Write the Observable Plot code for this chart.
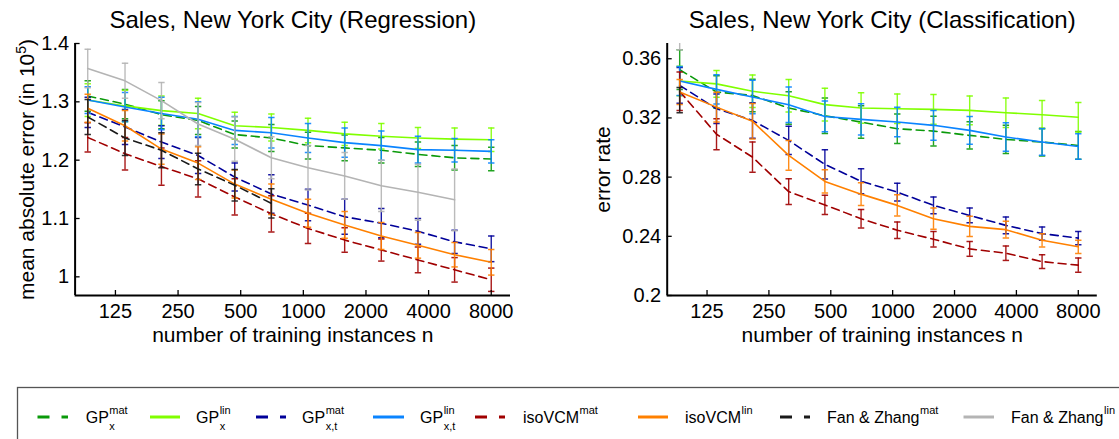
<!DOCTYPE html>
<html><head><meta charset="utf-8">
<script src="https://cdn.jsdelivr.net/npm/d3@7"></script>
<script src="https://cdn.jsdelivr.net/npm/@observablehq/plot@0.6"></script>
<style>
body{margin:0;background:#fff;}
#root{position:relative;width:1119px;height:439px;overflow:hidden;background:#fff;font-family:"Liberation Sans",Arial,Helvetica,sans-serif;}
.panel{position:absolute;top:0;}
</style></head><body><div id="root"></div>
<script>
// ---------- data ----------
const nTrain = [92, 139, 208, 312, 468, 702, 1053, 1580, 2370, 3555, 5333, 8000];
const xTickValues = [125, 250, 500, 1000, 2000, 4000, 8000];
const regTicks = [1, 1.1, 1.2, 1.3, 1.4];
const clsTicks = [0.2, 0.24, 0.28, 0.32, 0.36];

const seriesColors = ["#0a9a0a", "#80ff00", "#000099", "#0a84ff", "#a00000", "#ff8000", "#1a1a1a", "#b4b4b4"];
const seriesDashed = [true, false, true, false, true, false, true, false];
const legendBase = ["GP", "GP", "GP", "GP", "isoVCM", "isoVCM", "Fan & Zhang", "Fan & Zhang"];
const legendSup = ["mat", "lin", "mat", "lin", "mat", "lin", "mat", "lin"];
const legendSub = ["x", "x", "x,t", "x,t", "", "", "", ""];

// Regression (mean absolute error, in 1e5)
const regGPxMat      = [1.310, 1.296, 1.278, 1.268, 1.244, 1.238, 1.225, 1.221, 1.217, 1.210, 1.204, 1.202];
const regGPxMatErr   = [0.026, 0.025, 0.024, 0.024, 0.023, 0.023, 0.023, 0.022, 0.022, 0.021, 0.021, 0.020];
const regGPxLin      = [1.303, 1.293, 1.285, 1.280, 1.259, 1.256, 1.251, 1.245, 1.241, 1.238, 1.236, 1.235];
const regGPxLinErr   = [0.028, 0.027, 0.025, 0.026, 0.023, 0.023, 0.021, 0.020, 0.022, 0.018, 0.019, 0.020];
const regGPxtMat     = [1.282, 1.257, 1.231, 1.208, 1.171, 1.142, 1.123, 1.103, 1.092, 1.078, 1.060, 1.048];
const regGPxtMatErr  = [0.026, 0.030, 0.028, 0.031, 0.024, 0.033, 0.027, 0.030, 0.025, 0.022, 0.020, 0.022];
const regGPxtLin     = [1.303, 1.291, 1.280, 1.270, 1.251, 1.247, 1.238, 1.230, 1.225, 1.218, 1.217, 1.215];
const regGPxtLinErr  = [0.023, 0.025, 0.028, 0.030, 0.024, 0.026, 0.025, 0.025, 0.025, 0.023, 0.020, 0.020];
const regIsoMat      = [1.239, 1.211, 1.189, 1.168, 1.137, 1.108, 1.083, 1.063, 1.046, 1.029, 1.012, 0.995];
const regIsoMatErr   = [0.025, 0.028, 0.032, 0.031, 0.031, 0.031, 0.026, 0.021, 0.019, 0.022, 0.021, 0.020];
const regIsoLin      = [1.289, 1.259, 1.219, 1.195, 1.159, 1.133, 1.109, 1.089, 1.070, 1.054, 1.038, 1.025];
const regIsoLinErr   = [0.024, 0.026, 0.026, 0.028, 0.024, 0.026, 0.024, 0.023, 0.023, 0.022, 0.021, 0.022];
const regFanMat      = [1.274, 1.238, 1.217, 1.185, 1.157, 1.126];
const regFanMatErr   = [0.030, 0.030, 0.030, 0.027, 0.027, 0.025];
const regFanLin      = [1.357, 1.336, 1.302, 1.262, 1.236, 1.204, 1.187, 1.173, 1.156, 1.145, 1.132];
const regFanLinErr   = [0.033, 0.030, 0.031, 0.037, 0.038, 0.036, 0.038, 0.040, 0.044, 0.048, 0.053];

// Classification (error rate)
const clsGPxMat      = [0.3526, 0.3375, 0.3352, 0.3267, 0.3215, 0.3172, 0.3127, 0.3111, 0.3082, 0.3055, 0.3037, 0.3014];
const clsGPxMatErr   = [0.0134, 0.0110, 0.0110, 0.0110, 0.0120, 0.0110, 0.0100, 0.0100, 0.0092, 0.0096, 0.0094, 0.0094];
const clsGPxLin      = [0.3450, 0.3430, 0.3380, 0.3350, 0.3290, 0.3267, 0.3262, 0.3258, 0.3251, 0.3235, 0.3222, 0.3205];
const clsGPxLinErr   = [0.0100, 0.0090, 0.0110, 0.0110, 0.0110, 0.0103, 0.0100, 0.0100, 0.0097, 0.0100, 0.0096, 0.0100];
const clsGPxtMat     = [0.3420, 0.3262, 0.3183, 0.3048, 0.2886, 0.2772, 0.2699, 0.2609, 0.2541, 0.2474, 0.2418, 0.2388];
const clsGPxtMatErr  = [0.0120, 0.0100, 0.0120, 0.0095, 0.0099, 0.0085, 0.0060, 0.0056, 0.0050, 0.0056, 0.0045, 0.0045];
const clsGPxtLin     = [0.3450, 0.3393, 0.3341, 0.3289, 0.3210, 0.3190, 0.3172, 0.3150, 0.3116, 0.3071, 0.3037, 0.3007];
const clsGPxtLinErr  = [0.0098, 0.0099, 0.0113, 0.0120, 0.0104, 0.0106, 0.0100, 0.0100, 0.0094, 0.0097, 0.0090, 0.0086];
const clsIsoMat      = [0.3380, 0.3090, 0.2935, 0.2702, 0.2612, 0.2519, 0.2441, 0.2380, 0.2315, 0.2286, 0.2229, 0.2205];
const clsIsoMatErr   = [0.0130, 0.0105, 0.0102, 0.0087, 0.0065, 0.0062, 0.0056, 0.0053, 0.0050, 0.0049, 0.0047, 0.0048];
const clsIsoLin      = [0.3375, 0.3273, 0.3177, 0.2947, 0.2771, 0.2685, 0.2609, 0.2519, 0.2467, 0.2445, 0.2373, 0.2329];
const clsIsoLinErr   = [0.0085, 0.0100, 0.0120, 0.0100, 0.0079, 0.0077, 0.0072, 0.0072, 0.0068, 0.0056, 0.0045, 0.0045];
const clsFanMat      = [0.3320];
const clsFanMatErr   = [0.0085];
const clsFanLin      = [0.3830];
const clsFanLinErr   = [0.0170];

const regMeans = [regGPxMat, regGPxLin, regGPxtMat, regGPxtLin, regIsoMat, regIsoLin, regFanMat, regFanLin];
const regErrs  = [regGPxMatErr, regGPxLinErr, regGPxtMatErr, regGPxtLinErr, regIsoMatErr, regIsoLinErr, regFanMatErr, regFanLinErr];
const clsMeans = [clsGPxMat, clsGPxLin, clsGPxtMat, clsGPxtLin, clsIsoMat, clsIsoLin, clsFanMat, clsFanLin];
const clsErrs  = [clsGPxMatErr, clsGPxLinErr, clsGPxtMatErr, clsGPxtLinErr, clsIsoMatErr, clsIsoLinErr, clsFanMatErr, clsFanLinErr];

// ---------- drawing ----------
const FONT = '"Liberation Sans", Arial, Helvetica, sans-serif';
const root = document.getElementById("root");
const xDomain = [80, 9900];
const capSymbol = {draw(ctx, size) { const r = Math.sqrt(size / Math.PI); ctx.moveTo(-r, 0); ctx.lineTo(r, 0); }};

function panel({title, ylabel, sup, yDomain, yTicks, means, errs, width, height, marginLeft, marginRight, marginTop, marginBottom, ylabelDx}) {
  const W = width - marginLeft - marginRight;
  const H = height - marginTop - marginBottom;
  const marks = [];
  means.forEach((arr, s) => {
    const rows = arr.map((m, i) => ({n: nTrain[i], m, lo: m - errs[s][i], hi: m + errs[s][i]}));
    const c = seriesColors[s];
    marks.push(Plot.ruleX(rows, {x: "n", y1: "lo", y2: "hi", stroke: c, strokeWidth: 1.4, strokeOpacity: 0.9, clip: true}));
    marks.push(Plot.dot(rows, {x: "n", y: "lo", symbol: capSymbol, r: 3.2, stroke: c, fill: "none", strokeWidth: 1.5, strokeOpacity: 0.9, clip: true}));
    marks.push(Plot.dot(rows, {x: "n", y: "hi", symbol: capSymbol, r: 3.2, stroke: c, fill: "none", strokeWidth: 1.5, strokeOpacity: 0.9, clip: true}));
    marks.push(Plot.line(rows, {x: "n", y: "m", stroke: c, strokeWidth: 1.6, strokeDasharray: seriesDashed[s] ? "8,5" : null, clip: true}));
  });
  const fmt = d => String(+d.toFixed(2));
  marks.push(
    Plot.tickX(xTickValues, {x: d => d, insetTop: H - 5, stroke: "black", strokeWidth: 1.3}),
    Plot.tickY(yTicks, {y: d => d, insetRight: W - 5, stroke: "black", strokeWidth: 1.3}),
    Plot.ruleX([xDomain[0]], {stroke: "black", strokeWidth: 2}),
    Plot.ruleY([yDomain[0]], {stroke: "black", strokeWidth: 2}),
    Plot.text(xTickValues, {x: d => d, text: d => String(d), frameAnchor: "bottom", dy: 16, fontSize: 20, lineAnchor: "middle"}),
    Plot.axisY({ticks: yTicks, tickSize: 0, tickPadding: 6, tickFormat: fmt, label: null, fontSize: 20}),
    Plot.text([title], {text: d => d, frameAnchor: "top", dy: -23, fontSize: 24, lineAnchor: "middle"}),
    Plot.text(["number of training instances n"], {text: d => d, frameAnchor: "bottom", dy: 40, fontSize: 21, lineAnchor: "middle"}),
    Plot.text([ylabel], {text: d => d, frameAnchor: "left", dx: ylabelDx, rotate: -90, fontSize: 21, lineAnchor: "middle", textAnchor: "middle"})
  );
  const svg = Plot.plot({
    width, height, marginLeft, marginRight, marginTop, marginBottom,
    x: {type: "log", domain: xDomain, axis: null},
    y: {domain: yDomain},
    style: {fontFamily: FONT, fontSize: "20px", background: "transparent", color: "black", overflow: "visible"},
    marks
  });
  if (sup) {
    d3.select(svg).selectAll("text").filter(function() { return this.textContent === ylabel; }).each(function() {
      const t = d3.select(this);
      t.append("tspan").attr("dy", -8).attr("font-size", 14).text(sup);
      t.append("tspan").attr("dy", 8).text(")");
    });
  }
  return svg;
}

const left = panel({
  title: "Sales, New York City (Regression)", ylabel: "mean absolute error (in 10", sup: "5",
  yDomain: [0.968, 1.4], yTicks: regTicks, means: regMeans, errs: regErrs,
  width: 540, height: 360, marginLeft: 74.6, marginRight: 30, marginTop: 43, marginBottom: 65, ylabelDx: -48
});
const right = panel({
  title: "Sales, New York City (Classification)", ylabel: "error rate", sup: null,
  yDomain: [0.2, 0.3703], yTicks: clsTicks, means: clsMeans, errs: clsErrs,
  width: 559, height: 360, marginLeft: 106.7, marginRight: 22.2, marginTop: 43, marginBottom: 65, ylabelDx: -64
});
const d1 = document.createElement("div"); d1.className = "panel"; d1.style.left = "0px"; d1.appendChild(left); root.appendChild(d1);
const d2 = document.createElement("div"); d2.className = "panel"; d2.style.left = "560px"; d2.appendChild(right); root.appendChild(d2);

// ---------- legend ----------
const lg = d3.create("svg").attr("width", 1119).attr("height", 59)
  .style("position", "absolute").style("left", "0px").style("top", "380px").style("font-family", FONT);
root.appendChild(lg.node());
lg.append("rect").attr("x", 17.5).attr("y", 7.5).attr("width", 1140).attr("height", 80)
  .attr("fill", "#fff").attr("stroke", "#555").attr("stroke-width", 1.3);
const sampleX = [[37.5, 68], [150, 180], [256, 286], [373, 404], [475, 505], [638, 668], [780, 810], [963.5, 994]];
const labelX = [85.7, 196, 302, 420, 523, 685, 827, 1011];
const rowY = 37;
legendBase.forEach((b, i) => {
  lg.append("line").attr("x1", sampleX[i][0]).attr("x2", sampleX[i][1]).attr("y1", rowY).attr("y2", rowY)
    .attr("stroke", seriesColors[i]).attr("stroke-width", 3)
    .attr("stroke-dasharray", seriesDashed[i] ? "12,12" : null);
  const t = lg.append("text").attr("x", labelX[i]).attr("y", rowY + 6).attr("font-size", 16).attr("fill", "black").text(b);
  const w = t.node().getComputedTextLength();
  lg.append("text").attr("x", labelX[i] + w + 0.5).attr("y", rowY - 3).attr("font-size", 11).attr("fill", "black").text(legendSup[i]);
  if (legendSub[i]) lg.append("text").attr("x", labelX[i] + w + 0.5).attr("y", rowY + 13).attr("font-size", 11).attr("fill", "black").text(legendSub[i]);
});
</script></body></html>
